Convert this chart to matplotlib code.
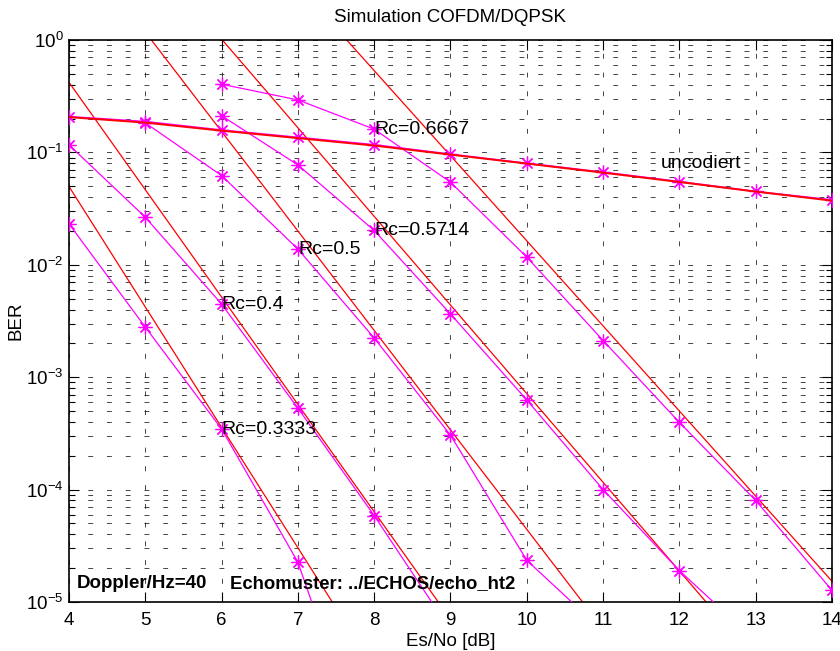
import matplotlib
matplotlib.use('Agg')
import matplotlib.pyplot as plt
from matplotlib.ticker import LogLocator, NullFormatter, FixedLocator

plt.rcParams['font.family'] = ['Liberation Sans', 'DejaVu Sans']
plt.rcParams['mathtext.fontset'] = 'custom'
plt.rcParams['mathtext.rm'] = 'Liberation Sans'
plt.rcParams['mathtext.it'] = 'Liberation Sans:italic'
plt.rcParams['mathtext.bf'] = 'Liberation Sans:bold'
plt.rcParams['lines.scale_dashes'] = False

# ---------------- data ----------------
es_no_uncoded = [4, 5, 6, 7, 8, 9, 10, 11, 12, 13, 14]
ber_uncoded = [0.208, 0.188, 0.158, 0.136, 0.117, 0.0964, 0.080, 0.0667, 0.055, 0.0449, 0.0378]
ber_uncoded_theory = [0.206, 0.184, 0.156, 0.134, 0.115, 0.0955, 0.0795, 0.066, 0.0545, 0.0448, 0.0372]

es_no_r6667 = [6, 7, 8, 9, 10, 11, 12, 13, 14]
ber_r6667 = [0.404, 0.293, 0.161, 0.0543, 0.0117, 0.00212, 3.96e-4, 8.0e-5, 1.27e-5]

es_no_r5714 = [6, 7, 8, 9, 10, 11, 12, 13]
ber_r5714 = [0.212, 0.0774, 0.0202, 0.00365, 6.27e-4, 1.0e-4, 1.9e-5, 4.5e-6]

es_no_r5 = [5, 6, 7, 8, 9, 10, 11]
ber_r5 = [0.183, 0.0622, 0.0138, 0.00223, 3.05e-4, 2.35e-5, 5.5e-6]

es_no_r4 = [4, 5, 6, 7, 8, 9]
ber_r4 = [0.1166, 0.0265, 0.00447, 5.3e-4, 5.87e-5, 5.6e-6]

es_no_r3333 = [4, 5, 6, 7, 8]
ber_r3333 = [0.0231, 0.00279, 3.46e-4, 2.26e-5, 2.5e-7]

# straight fit lines (red) for the coded cases: start / end points
fit_es_no_start = [4.0, 4.0, 5.08, 6.01, 7.64]
fit_es_no_end = [7.45, 8.84, 10.73, 12.35, 14.0]
fit_ber_start = [0.0497, 0.42, 1.0, 1.0, 1.0]
fit_ber_end = [1e-5, 1e-5, 1e-5, 1e-5, 1.53e-5]

labels = ['Rc=0.6667', 'Rc=0.5714', 'Rc=0.5', 'Rc=0.4', 'Rc=0.3333', 'uncodiert']
label_es_no = [8, 8, 7, 6, 6, 11.75]
label_ber = [0.161, 0.0202, 0.0138, 0.00447, 3.46e-4, 0.080]

x_ticks = [4, 5, 6, 7, 8, 9, 10, 11, 12, 13, 14]

# ---------------- figure ----------------
fig = plt.figure(figsize=(8.4, 6.51), dpi=100)
ax = fig.add_axes([69 / 840, 1 - 602 / 651, (832 - 69) / 840, (602 - 40) / 651])

mag = '#ff00ff'
red = '#ff0000'
mk = dict(marker=(8, 2, 0), markersize=10, markeredgewidth=0.9)

series = [(es_no_r6667, ber_r6667), (es_no_r5714, ber_r5714),
          (es_no_r5, ber_r5), (es_no_r4, ber_r4), (es_no_r3333, ber_r3333)]
for xs, ys in series:
    ax.plot(xs, ys, color=mag, lw=0.9, **mk, zorder=3)

ax.plot(es_no_uncoded, ber_uncoded, color=mag, lw=1.2, **mk, zorder=3)
ax.plot(es_no_uncoded, ber_uncoded_theory, color=red, lw=1.4, zorder=4)

for i in range(len(fit_es_no_start)):
    ax.plot([fit_es_no_start[i], fit_es_no_end[i]], [fit_ber_start[i], fit_ber_end[i]],
            color=red, lw=0.9, zorder=2)

ax.set_yscale('log')
ax.set_xlim(4, 14)
ax.set_ylim(1e-5, 1)
ax.xaxis.set_major_locator(FixedLocator(x_ticks))
ax.yaxis.set_major_locator(LogLocator(base=10, numticks=10))
ax.yaxis.set_minor_locator(LogLocator(base=10, subs=range(2, 10), numticks=20))
ax.yaxis.set_minor_formatter(NullFormatter())

ax.tick_params(which='both', direction='in', top=True, right=True, labelsize=13.5,
               width=0.8, colors='black')
ax.tick_params(which='major', length=7)
ax.tick_params(which='minor', length=4)
ax.tick_params(axis='x', pad=7)
ax.tick_params(axis='y', pad=4)

grid_style = dict(color='black', linestyle=(0, (3.5, 10)), linewidth=0.6, alpha=0.85)
ax.grid(True, which='major', axis='both', **grid_style)
ax.grid(True, which='minor', axis='y', **grid_style)
ax.set_axisbelow(True)
for s in ax.spines.values():
    s.set_linewidth(1.2)

for t, xx, yy in zip(labels, label_es_no, label_ber):
    ax.text(xx, yy, t, fontsize=14, ha='left', va='center', zorder=5)

ax.text(4.1, 1.45e-5, 'Doppler/Hz=40', fontsize=13.5, fontweight='bold', ha='left', va='center')
ax.text(6.11, 1.45e-5, 'Echomuster: ../ECHOS/echo_ht2', fontsize=13.3, fontweight='bold',
        ha='left', va='center')

ax.set_title('Simulation COFDM/DQPSK', fontsize=13.5, pad=13)
ax.set_xlabel('Es/No [dB]', fontsize=13.5, labelpad=3)
ax.set_ylabel('BER', fontsize=13.5, labelpad=1)

fig.savefig('out.png', dpi=100)
